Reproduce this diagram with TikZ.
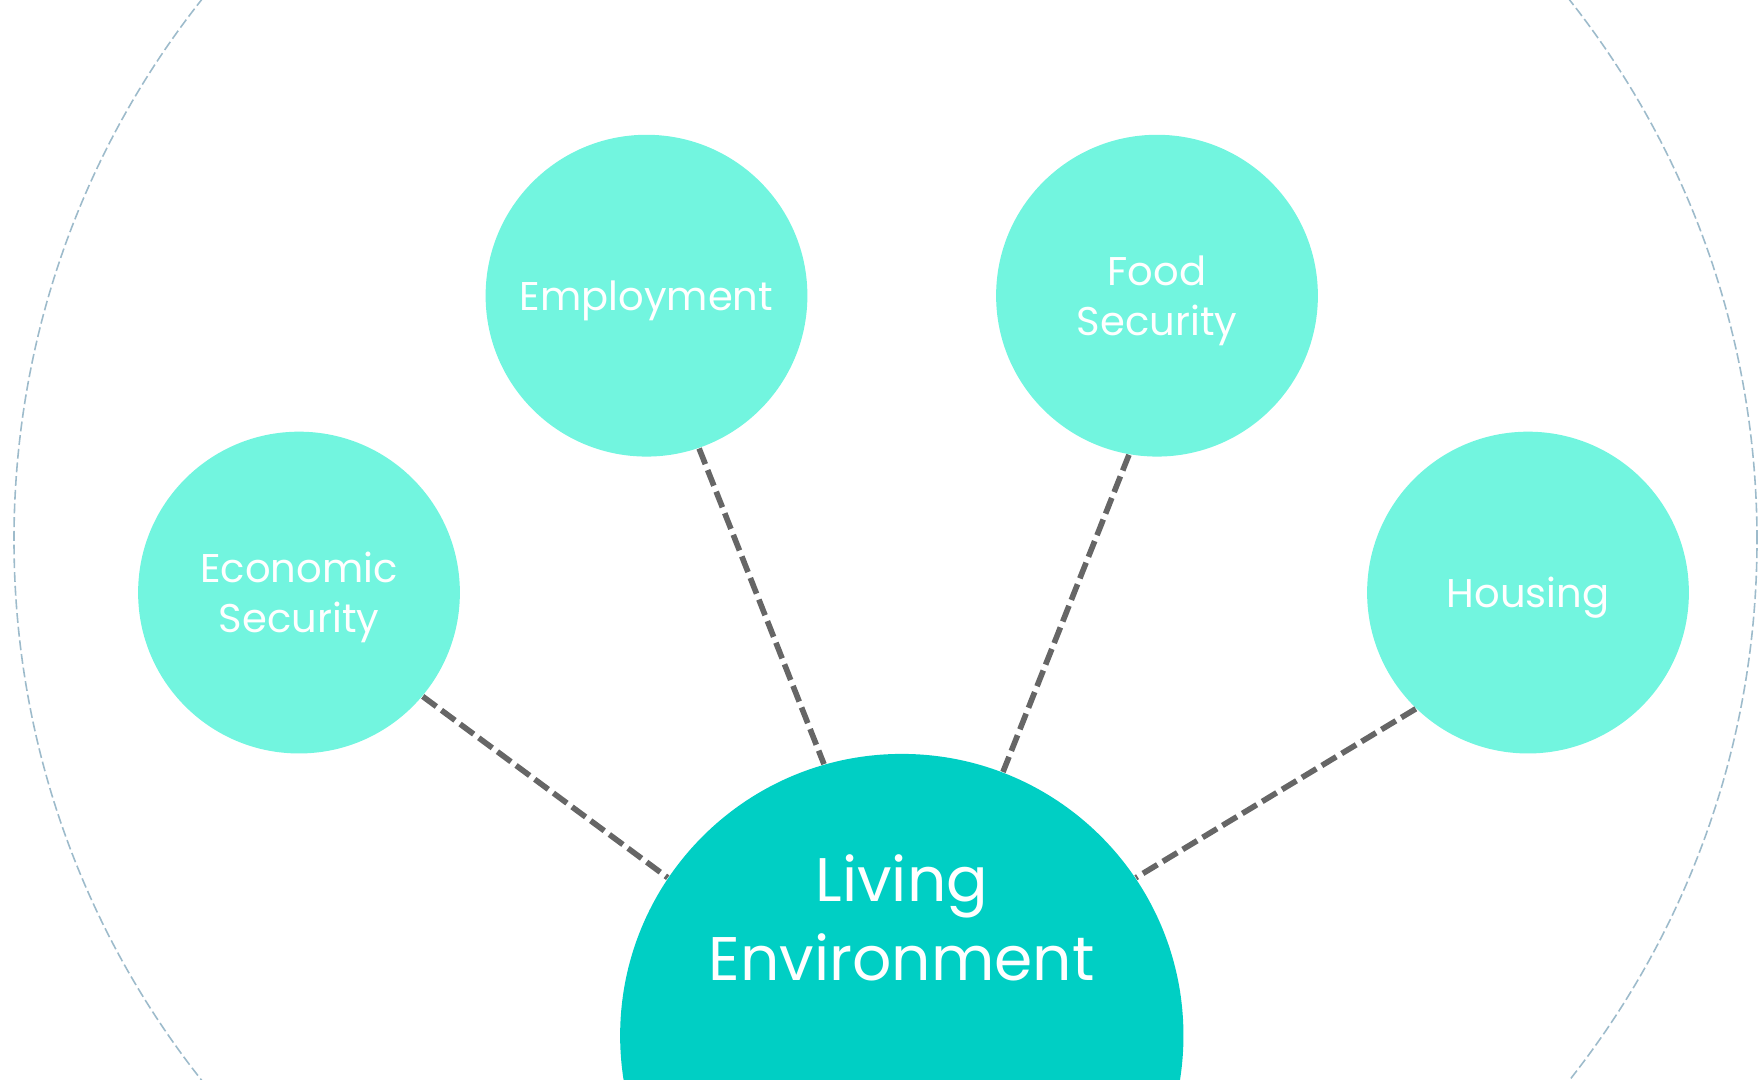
\documentclass[tikz,border=0pt]{standalone}
\usepackage{fontspec}
\setmainfont{Poppins}
\usetikzlibrary{calc}
\definecolor{topicfill}{HTML}{72F5DF}
\definecolor{corefill}{HTML}{00CFC4}
\definecolor{linkgray}{HTML}{666666}
\definecolor{ringblue}{HTML}{9DBBCB}
\tikzset{
 topic/.style={circle, fill=topicfill, minimum size=3.216cm, inner sep=0pt, text depth=0pt, text=white, align=center, font=\fontsize{11.4}{14.2}\selectfont},
 link/.style={linkgray, line width=1.6pt, dash pattern=on 4.8pt off 1.8pt}
}
\begin{document}
\begin{tikzpicture}[x=0.01cm,y=0.01cm]
\useasboundingbox (0,0) rectangle (1763,1080);
\clip (0,0) rectangle (1763,1080);
\draw[ringblue, line width=0.45pt, dash pattern=on 2.8pt off 1.1pt] (885.5,540) circle (8.71cm);
\node[circle, fill=corefill, minimum size=5.63cm, inner sep=0pt] (env) at (901.8,44.4) {};
\node[text=white, align=center, font=\fontsize{17.5}{22.5}\selectfont] (envtext) at (901.8,162) {Living\\Environment};
\node[topic] (econ) at (299,487.4) {Economic\\Security};
\node[topic] (emp) at (646.5,784.3) {Employment};
\node[topic] (food) at (1157,784.3) {Food\\Security};
\node[topic] (hous) at (1528,487.4) {Housing};
\draw[link] (econ.-40) -- (env.146);
\draw[link] (emp.-71) -- (env.106);
\draw[link] (food.260) -- (env.69);
\draw[link] (hous.226) -- (env.34);
\end{tikzpicture}
\end{document}
